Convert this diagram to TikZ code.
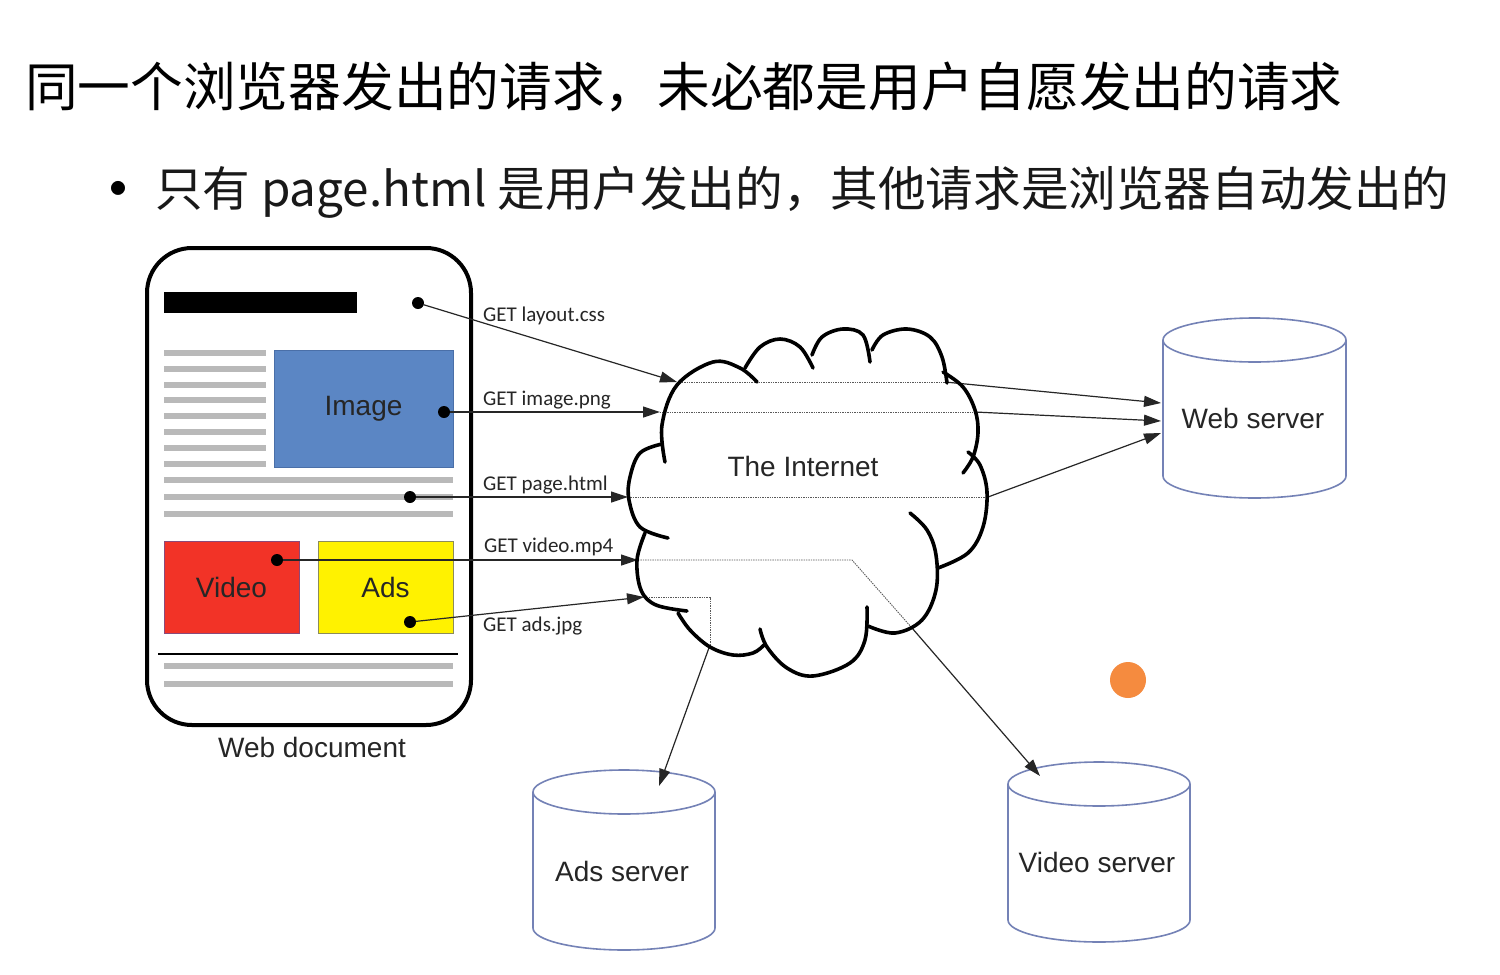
\documentclass[tikz,border=0pt]{standalone}
\usepackage{fontspec}
\setmainfont{Liberation Sans}
\newfontfamily\cjk{Noto Sans CJK SC}
\newfontfamily\cali{Carlito}
\usetikzlibrary{arrows.meta}
\definecolor{imgblue}{HTML}{5B86C4}
\definecolor{imgborder}{HTML}{4A6FA8}
\definecolor{vidred}{HTML}{F23327}
\definecolor{vidborder}{HTML}{8A4A7A}
\definecolor{adsyellow}{HTML}{FFF200}
\definecolor{adsborder}{HTML}{8C8C5A}
\definecolor{srv}{HTML}{7482B6}
\definecolor{orangedot}{HTML}{F58B3F}
\begin{document}
\begin{tikzpicture}[x=1pt,y=-1pt,
  conn/.style={draw=black!85, line width=1.2pt},
  arr/.style={conn, -{Triangle[length=17pt,width=11pt]}},
  dotline/.style={draw=black!65, line width=0.9pt, dash pattern=on 1.4pt off 1pt},
  pin/.style={circle, fill=black, inner sep=0pt, minimum size=12pt},
  getlabel/.style={font=\cali\fontsize{21}{24}\selectfont, anchor=west, inner sep=0pt, text=black!85},
  boxlabel/.style={font=\fontsize{28}{32}\selectfont, text=black!85},
  graybar/.style={draw=gray!55, line width=6pt},
  server/.style={draw=srv, line width=1.6pt, fill=white},
  cloudline/.style={draw=black, line width=3.6pt, line cap=round}
]
\useasboundingbox[fill=white] (0,0) rectangle (1500,975);

% Title and subtitle
\node[anchor=base west, inner sep=0pt, font=\cjk\fontsize{52.7}{58}\selectfont] (title) at (25,106) {同一个浏览器发出的请求，未必都是用户自愿发出的请求};
\node[font=\cjk\fontsize{66}{70}\selectfont, inner sep=0pt] (bullet) at (118,197) {•};
\node[anchor=base west, inner sep=0pt, font=\cjk\fontsize{47.6}{52}\selectfont, text=black!90] (sub) at (155,206) {只有 page.html 是用户发出的，其他请求是浏览器自动发出的};

% Web document
\draw[line width=4pt, rounded corners=45pt] (147,248) rectangle (471,725);
\fill[black] (164,292) rectangle (357,313);
\foreach \i in {0,...,7} { \draw[graybar] (164,353+15.8*\i) -- (266,353+15.8*\i); }
\foreach \yy in {480,497,514,666,684} { \draw[graybar] (164,\yy) -- (453,\yy); }
\draw[line width=1.2pt] (158,654) -- (458,654);
\node[boxlabel, draw=imgborder, line width=1pt, fill=imgblue, minimum width=179pt, minimum height=117pt, inner sep=0pt] (img) at (363.5,408.5) {Image};
\node[boxlabel, draw=vidborder, line width=1pt, fill=vidred, minimum width=135pt, minimum height=92pt, inner sep=0pt] (vid) at (231.5,587) {Video};
\node[boxlabel, draw=adsborder, line width=1pt, fill=adsyellow, minimum width=135pt, minimum height=92pt, inner sep=0pt] (ads) at (385.5,587) {Ads};
\node[boxlabel] (doclabel) at (312,747) {Web document};

% dots
\node[pin] (d1) at (418,303) {};
\node[pin] (d2) at (444,412) {};
\node[pin] (d3) at (410,497) {};
\node[pin] (d4) at (277,560) {};
\node[pin] (d5) at (410,622) {};

% servers
\draw[server] (1163,340) -- (1163,476) arc[start angle=180, end angle=0, x radius=91.5, y radius=22] -- (1346,340);
\draw[server] (1254.5,340) ellipse[x radius=91.5, y radius=22];
\node[boxlabel] (ws) at (1253,418) {Web server};

\draw[server] (533,792) -- (533,928) arc[start angle=180, end angle=0, x radius=91, y radius=22] -- (715,792);
\draw[server] (624,792) ellipse[x radius=91, y radius=22];
\node[boxlabel] (as) at (622,871) {Ads server};

\draw[server] (1008,784) -- (1008,920) arc[start angle=180, end angle=0, x radius=91, y radius=22] -- (1190,784);
\draw[server] (1099,784) ellipse[x radius=91, y radius=22];
\node[boxlabel] (vs) at (1097,862) {Video server};

% coordinates
\coordinate (l1a) at (677,382); \coordinate (l1b) at (945,382); \coordinate (ws1) at (1161,403);
\coordinate (l2a) at (660,412); \coordinate (l2b) at (975,412); \coordinate (ws2) at (1161,421);
\coordinate (l3a) at (628,497); \coordinate (l3b) at (988,497); \coordinate (ws3) at (1161,433);
\coordinate (l4a) at (638,560); \coordinate (l4b) at (852,560); \coordinate (l4c) at (912,628); \coordinate (vs1) at (1040,776);
\coordinate (l5a) at (644,597); \coordinate (l5b) at (710,597); \coordinate (l5c) at (710,645); \coordinate (as1) at (659,786);

% connectors
\draw[arr] (d1) -- (l1a);
\draw[dotline] (l1a) -- (l1b);
\draw[arr] (l1b) -- (ws1);
\draw[arr] (d2) -- (l2a);
\draw[dotline] (l2a) -- (l2b);
\draw[arr] (l2b) -- (ws2);
\draw[arr] (d3) -- (l3a);
\draw[dotline] (l3a) -- (l3b);
\draw[arr] (l3b) -- (ws3);
\draw[arr] (d4) -- (l4a);
\draw[dotline] (l4a) -- (l4b) -- (l4c);
\draw[arr] (l4c) -- (vs1);
\draw[arr] (d5) -- (l5a);
\draw[dotline] (l5a) -- (l5b) -- (l5c);
\draw[arr] (l5c) -- (as1);

% labels
\node[getlabel] (g1) at (483,316) {GET layout.css};
\node[getlabel] (g2) at (483,400) {GET image.png};
\node[getlabel] (g3) at (483,485) {GET page.html};
\node[getlabel] (g4) at (484,547) {GET video.mp4};
\node[getlabel] (g5) at (483,626) {GET ads.jpg};

% cloud
\draw[cloudline] plot[smooth, tension=0.6] coordinates {(665,462) (662,425) (677,385) (713,362) (740,368) (757,382)};
\draw[cloudline] plot[smooth, tension=0.6] coordinates {(745,368) (760,347) (780,339) (800,347) (813,368)};
\draw[cloudline] plot[smooth, tension=0.6] coordinates {(812,355) (822,337) (843,329) (863,335) (870,362)};
\draw[cloudline] plot[smooth, tension=0.6] coordinates {(872,350) (883,335) (907,329) (930,337) (942,357) (947,383)};
\draw[cloudline] plot[smooth, tension=0.6] coordinates {(943,372) (963,387) (975,410) (978,433) (973,457) (963,473)};
\draw[cloudline] plot[smooth, tension=0.6] coordinates {(968,452) (980,465) (987,492) (983,527) (968,553) (938,568)};
\draw[cloudline] plot[smooth, tension=0.6] coordinates {(910,513) (927,530) (936,555) (936,590) (922,620) (895,633) (868,626)};
\draw[cloudline] plot[smooth, tension=0.6] coordinates {(867,607) (865,640) (850,663) (813,676) (787,668) (767,647) (760,629)};
\draw[cloudline] plot[smooth, tension=0.6] coordinates {(764,645) (753,653) (733,655) (710,647) (690,630) (678,613)};
\draw[cloudline] plot[smooth, tension=0.6] coordinates {(645,533) (637,560) (641,590) (656,605) (687,611)};
\draw[cloudline] plot[smooth, tension=0.6] coordinates {(662,444) (640,453) (630,477) (629,500) (640,527) (668,538)};
\node[boxlabel] (inet) at (803,466) {The Internet};

% cursor highlight
\fill[orangedot] (1128,680) circle[radius=18];
\end{tikzpicture}
\end{document}
